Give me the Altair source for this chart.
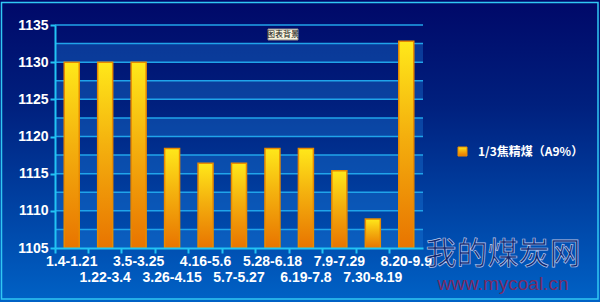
import altair as alt
import pandas as pd

# Periods and the 1/3 coking coal (A9%) price for each
periods = ["1.4-1.21", "1.22-3.4", "3.5-3.25", "3.26-4.15", "4.16-5.6", "5.7-5.27",
           "5.28-6.18", "6.19-7.8", "7.9-7.29", "7.30-8.19", "8.20-9.9"]
prices = [1130, 1130, 1130, 1118.4, 1116.4, 1116.4, 1118.4, 1118.4, 1115.4, 1108.9, 1132.8]
series_name = "1/3焦精煤（A9%）"

y_min, y_max = 1105, 1135
y_ticks = [1105, 1110, 1115, 1120, 1125, 1130, 1135]
grid_values = [1107.5, 1110, 1112.5, 1115, 1117.5, 1120, 1122.5, 1125, 1127.5, 1130, 1132.5, 1135]
band_lo = [1105, 1110, 1115, 1120, 1125, 1130]

W, H = 368, 223
PL, PT, PR, PB = 55, 25, 177, 54

df = pd.DataFrame({"period": periods, "price": prices,
                   "row": [i % 2 for i in range(len(periods))]})
bands = pd.DataFrame({"lo": band_lo, "hi": [v + 2.5 for v in band_lo]})
grid = pd.DataFrame({"v": grid_values})
one = pd.DataFrame({"k": [0]})

x_axis = alt.Axis(labels=False, title=None, domainColor="#22c4f4", domainWidth=2,
                  tickColor="#22c4f4", tickWidth=2, tickSize=5, bandPosition=0,
                  grid=False, zindex=2)
y_axis = alt.Axis(values=y_ticks, format="d", title=None, grid=False, domainColor="#22c4f4",
                  domainWidth=2, tickColor="#22c4f4", tickWidth=2, tickSize=5,
                  labelColor="white", labelFont="Liberation Sans", labelFontSize=14,
                  labelFontWeight="bold", labelPadding=2, zindex=2)
x_scale = alt.Scale(paddingInner=0, paddingOuter=0)
y_scale = alt.Scale(domain=[y_min, y_max], nice=False, zero=False)

bg_grad = alt.Gradient(gradient="linear", x1=0, x2=0, y1=0, y2=1,
                       stops=[alt.GradientStop(color="#000868", offset=0),
                              alt.GradientStop(color="#00207e", offset=0.35),
                              alt.GradientStop(color="#0062c6", offset=1)])
background = alt.Chart(one).mark_rect(color=bg_grad).encode(
    x=alt.value(-PL), x2=alt.value(W + PR), y=alt.value(-PT), y2=alt.value(H + PB))

frame = alt.Chart(one).mark_rect(fill=None, stroke="#30c8f4", strokeWidth=1.5).encode(
    x=alt.value(-PL + 1.5), x2=alt.value(W + PR - 2), y=alt.value(-PT + 2.5), y2=alt.value(H + PB - 3))

band_layer = alt.Chart(bands).mark_rect(color="#1a78d8", opacity=0.38).encode(
    x=alt.value(0), x2=alt.value(W),
    y=alt.Y("lo:Q", scale=y_scale, axis=y_axis), y2="hi:Q")

grid_layer = alt.Chart(grid).mark_rule(color="#20a4ea", strokeWidth=1.5).encode(
    x=alt.value(0), x2=alt.value(W), y=alt.Y("v:Q", scale=y_scale, axis=y_axis))

bar_grad = alt.Gradient(gradient="linear", x1=0, x2=0, y1=0, y2=1,
                        stops=[alt.GradientStop(color="#ffe81a", offset=0),
                               alt.GradientStop(color="#f4b00e", offset=0.45),
                               alt.GradientStop(color="#e87400", offset=1)])
bars = alt.Chart(df).mark_bar(width=15, color=bar_grad, stroke="#e88a00", strokeWidth=1.5).encode(
    x=alt.X("period:N", sort=periods, scale=x_scale, axis=x_axis),
    y=alt.Y("price:Q", scale=y_scale, axis=y_axis),
    y2=alt.datum(y_min))

label_style = dict(color="white", font="Liberation Sans", fontSize=14, fontWeight="bold",
                   baseline="middle", align="center")
labels_top = alt.Chart(df).transform_filter("datum.row == 0").mark_text(**label_style).encode(
    x=alt.X("period:N", sort=periods, scale=x_scale, axis=x_axis),
    y=alt.value(H + 14), text="period:N")
labels_bottom = alt.Chart(df).transform_filter("datum.row == 1").mark_text(**label_style).encode(
    x=alt.X("period:N", sort=periods, scale=x_scale, axis=x_axis),
    y=alt.value(H + 30), text="period:N")

legend_sym = alt.Chart(one).mark_rect(color=bar_grad, stroke="#e88a00", strokeWidth=1).encode(
    x=alt.value(458 - PL), x2=alt.value(467 - PL), y=alt.value(147 - PT), y2=alt.value(156 - PT))
legend_txt = alt.Chart(pd.DataFrame({"t": [series_name]})).mark_text(
    color="white", font="Noto Sans CJK SC", fontSize=12, fontWeight="bold",
    align="left", baseline="middle").encode(
    x=alt.value(478 - PL), y=alt.value(152 - PT), text="t:N")

tip_box = alt.Chart(one).mark_rect(fill="#f6f2dc", stroke="#8a8a8a", strokeWidth=1).encode(
    x=alt.value(268 - PL), x2=alt.value(298 - PL), y=alt.value(29 - PT), y2=alt.value(40 - PT))
tip_txt = alt.Chart(pd.DataFrame({"t": ["图表背景"]})).mark_text(
    color="#111111", font="Noto Sans CJK SC", fontSize=8, align="center", baseline="middle").encode(
    x=alt.value(283 - PL), y=alt.value(34.5 - PT), text="t:N")

mark_cn = alt.Chart(pd.DataFrame({"t": ["我的煤炭网"]})).mark_text(
    color="#14286a", stroke="#b8c8f0", strokeWidth=0.7, font="Noto Sans CJK SC", fontSize=31,
    align="center", baseline="middle").encode(
    x=alt.value(503 - PL), y=alt.value(255 - PT), text="t:N")
mark_url = alt.Chart(pd.DataFrame({"t": ["www.mycoal.cn"]})).mark_text(
    color="#7a2a62", font="Liberation Sans", fontSize=19, align="center", baseline="middle").encode(
    x=alt.value(503 - PL), y=alt.value(284 - PT), text="t:N")

chart = alt.layer(
    background, frame, band_layer, grid_layer, bars, labels_top, labels_bottom,
    legend_sym, legend_txt, tip_box, tip_txt, mark_cn, mark_url
).properties(
    width=W, height=H,
    padding={"left": PL, "top": PT, "right": PR, "bottom": PB},
    autosize=alt.AutoSizeParams(type="none"),
    background="#0040a0",
).configure_view(stroke=None)

chart.save("out.html", embed_options={"renderer": "svg", "actions": False})
